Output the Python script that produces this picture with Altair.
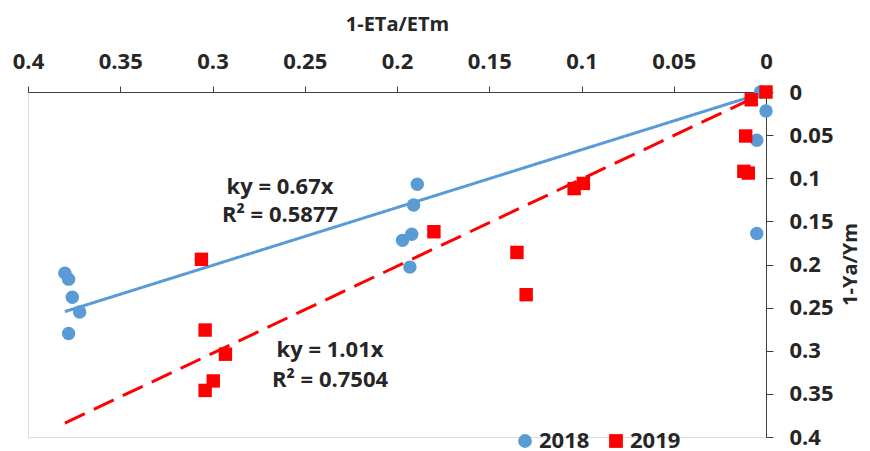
import altair as alt
import pandas as pd

# 2018 series (1-ETa/ETm, 1-Ya/Ym)
x2018 = [0.380, 0.378, 0.376, 0.372, 0.378, 0.189, 0.191, 0.192, 0.197, 0.193, 0.0, 0.005, 0.005, 0.003]
y2018 = [0.210, 0.217, 0.238, 0.255, 0.280, 0.107, 0.131, 0.165, 0.172, 0.203, 0.022, 0.056, 0.164, 0.0]
# 2019 series
x2019 = [0.0, 0.008, 0.011, 0.012, 0.0096, 0.099, 0.104, 0.180, 0.135, 0.130, 0.306, 0.304, 0.293, 0.2996, 0.304]
y2019 = [0.0, 0.009, 0.051, 0.092, 0.094, 0.106, 0.112, 0.162, 0.186, 0.235, 0.194, 0.276, 0.304, 0.335, 0.346]

years = ["2018", "2019"]
slopes = [0.67, 1.01]
line_x = [0.0, 0.38]

ann_text = ["ky = 0.67x", "R² = 0.5877", "ky = 1.01x", "R² = 0.7504"]
ann_x = [0.2634, 0.2634, 0.2363, 0.2363]
ann_y = [0.110, 0.1426, 0.299, 0.334]

ticks = [0, 0.05, 0.1, 0.15, 0.2, 0.25, 0.3, 0.35, 0.4]

BLUE = "#5B9BD5"
RED = "#FF0000"
TXT = "#262626"
FONT = "Open Sans"
colors = [BLUE, RED]
dashes = [[1, 0], [22, 10]]

pts = pd.DataFrame({
    "x": x2018 + x2019,
    "y": y2018 + y2019,
    "year": [years[0]] * len(x2018) + [years[1]] * len(x2019),
})

ann = pd.DataFrame({"x": ann_x, "y": ann_y, "t": ann_text})

xs = alt.Scale(domain=[0, 0.4], reverse=True, nice=False, zero=False)
ys = alt.Scale(domain=[0, 0.4], reverse=True, nice=False, zero=False)

x_axis = alt.Axis(
    orient="top", values=ticks, format=".2~f", title="1-ETa/ETm", grid=False,
    tickSize=6, labelPadding=13, labelFontSize=22, labelFont=FONT, labelFontWeight="bold",
    labelColor=TXT, domainColor="#404040", tickColor="#404040", labelFlush=False,
    labelOverlap=False, titleFontSize=20, titleFont=FONT, titleFontWeight="bold",
    titleColor=TXT, titleX=369, titleY=-68, titleAlign="center", titleBaseline="middle",
)
y_axis = alt.Axis(
    orient="right", values=ticks, format=".2~f", title="1-Ya/Ym", grid=False,
    tickSize=7, labelPadding=16, labelFontSize=22, labelFont=FONT, labelFontWeight="bold",
    labelColor=TXT, domainColor="#404040", tickColor="#404040", labelFlush=False,
    labelOverlap=False, titleFontSize=20, titleFont=FONT, titleFontWeight="bold",
    titleColor=TXT, titleAngle=270, titleX=84, titleY=172, titleAlign="center",
    titleBaseline="middle",
)

legend = alt.Legend(
    orient="none", legendX=486, legendY=338, direction="horizontal", title=None,
    labelFontSize=22, labelFont=FONT, labelFontWeight="bold", labelColor=TXT,
    symbolSize=190, labelOffset=3, columnPadding=15, symbolStrokeWidth=0,
)

color_scale = alt.Scale(domain=years, range=colors)
shape_scale = alt.Scale(domain=years, range=["circle", "square"])

line_layers = []
for i, (yr, s) in enumerate(zip(years, slopes)):
    df = pd.DataFrame({"x": line_x, "y": [s * v for v in line_x]})
    enc = dict(x=alt.X("x:Q", scale=xs), y=alt.Y("y:Q", scale=ys))
    if i == 0:
        enc = dict(x=alt.X("x:Q", scale=xs, axis=x_axis), y=alt.Y("y:Q", scale=ys, axis=y_axis))
    line_layers.append(
        alt.Chart(df).mark_line(strokeWidth=3, color=colors[i], strokeDash=dashes[i]).encode(**enc)
    )

pt_layer = alt.Chart(pts).mark_point(filled=True, opacity=1, size=180).encode(
    x=alt.X("x:Q", scale=xs),
    y=alt.Y("y:Q", scale=ys),
    color=alt.Color("year:N", scale=color_scale, legend=legend),
    shape=alt.Shape("year:N", scale=shape_scale, legend=legend),
    order=alt.Order("year:N"),
)

txt_layer = alt.Chart(ann).mark_text(
    font=FONT, fontSize=22, fontWeight="bold", color=TXT, align="center", baseline="middle"
).encode(
    x=alt.X("x:Q", scale=xs),
    y=alt.Y("y:Q", scale=ys),
    text="t:N",
)

chart = alt.layer(*line_layers, pt_layer, txt_layer).properties(
    width=738, height=345,
    autosize=alt.AutoSizeParams(type="none"),
    padding={"left": 20, "top": 84, "right": 96, "bottom": 22},
).configure_view(stroke=None).configure(font=FONT)

chart.save("out.html", embed_options={"renderer": "svg", "actions": False})
